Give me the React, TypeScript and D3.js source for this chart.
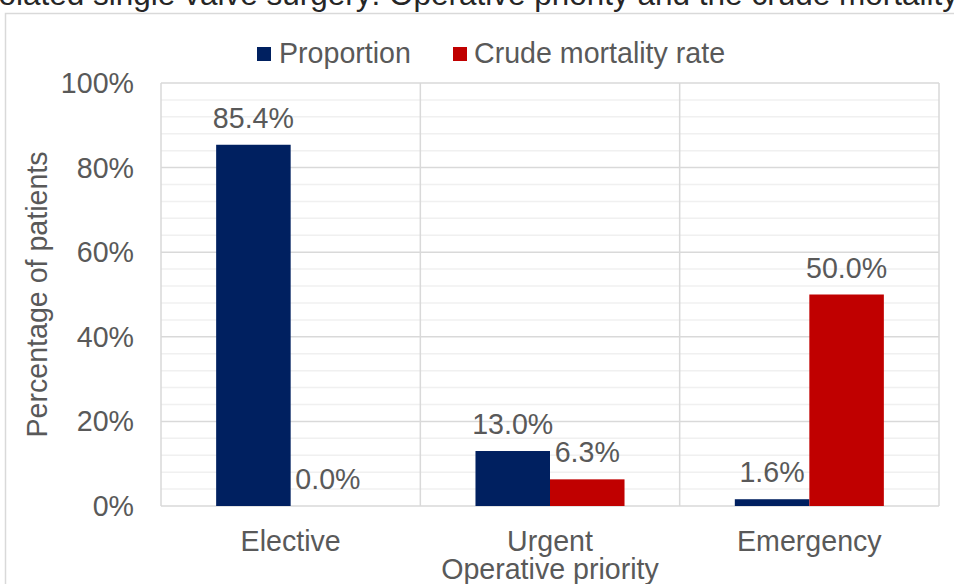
import * as d3 from 'd3';

const categories = ['Elective', 'Urgent', 'Emergency'];
const seriesNames = ['Proportion', 'Crude mortality rate'];
const proportion = [85.4, 13.0, 1.6];
const mortality = [0.0, 6.3, 50.0];
const yTicks = [0, 20, 40, 60, 80, 100];
const minorTicks = d3.range(0, 101, 4);

const colors = ['#002060', '#C00000'];
const font = '"Liberation Sans", Arial, sans-serif';
const textGray = '#595959';
const fs = 28.6;

export default function App() {
    const width = 954;
    const height = 584;
    const plot = { left: 161, right: 939, top: 83, bottom: 506 };

    const x = d3.scaleBand<string>().domain(categories).range([plot.left, plot.right]).padding(0);
    const xs = d3.scaleBand<string>().domain(seriesNames).range([0, x.bandwidth()]).paddingInner(0).paddingOuter(0.74);
    const y = d3.scaleLinear().domain([0, 100]).range([plot.bottom, plot.top]);

    const series = [proportion, mortality];
    const boundaries = [...categories.map(c => x(c)!), plot.right];

    return (
        <svg width={width} height={height} style={{ position: 'absolute', left: 0, top: 0, background: '#fff' }} fontFamily={font}>
            {/* title sits mostly above the visible area, as in the source */}
            <text x={-26} y={5} fontSize={31.5} fill="#262626">
                Isolated single valve surgery: Operative priority and the crude mortality rate
            </text>
            <rect x={5.5} y={13.5} width={1000} height={600} fill="none" stroke="#d9d9d9" strokeWidth={1.5} />

            {minorTicks.filter(t => t % 20 !== 0).map(t => (
                <line key={'m' + t} x1={plot.left} x2={plot.right} y1={y(t)} y2={y(t)} stroke="#f0f0f0" strokeWidth={1.5} />
            ))}
            {yTicks.map(t => (
                <line key={'g' + t} x1={plot.left} x2={plot.right} y1={y(t)} y2={y(t)} stroke="#d9d9d9" strokeWidth={1.5} />
            ))}
            {boundaries.map((b, i) => (
                <line key={'v' + i} x1={b} x2={b} y1={plot.top} y2={plot.bottom} stroke="#d9d9d9" strokeWidth={1.5} />
            ))}

            {yTicks.map(t => (
                <text key={'t' + t} x={134} y={y(t)} dy="0.35em" textAnchor="end" fontSize={fs} fill={textGray}>
                    {t}%
                </text>
            ))}

            {categories.map((c, ci) =>
                series.map((vals, si) => {
                    const bx = x(c)! + xs(seriesNames[si])!;
                    const v = vals[ci];
                    return (
                        <g key={c + si}>
                            <rect x={bx} y={y(v)} width={xs.bandwidth()} height={y(0) - y(v)} fill={colors[si]} />
                            <text x={bx + xs.bandwidth() / 2} y={y(v) - 17} textAnchor="middle" fontSize={fs} fill={textGray}>
                                {v.toFixed(1)}%
                            </text>
                        </g>
                    );
                })
            )}

            {categories.map(c => (
                <text key={'c' + c} x={x(c)! + x.bandwidth() / 2} y={551} textAnchor="middle" fontSize={fs} fill={textGray}>
                    {c}
                </text>
            ))}
            <text x={(plot.left + plot.right) / 2} y={579} textAnchor="middle" fontSize={fs} fill={textGray}>
                Operative priority
            </text>
            <text
                transform={`translate(47,${(plot.top + plot.bottom) / 2}) rotate(-90)`}
                textAnchor="middle"
                fontSize={fs}
                fill={textGray}
            >
                Percentage of patients
            </text>

            <g>
                <rect x={257} y={47} width={14} height={14} fill={colors[0]} />
                <text x={279} y={63} fontSize={fs} fill={textGray}>{seriesNames[0]}</text>
                <rect x={453} y={47} width={14} height={14} fill={colors[1]} />
                <text x={474} y={63} fontSize={fs} fill={textGray}>{seriesNames[1]}</text>
            </g>
        </svg>
    );
}
